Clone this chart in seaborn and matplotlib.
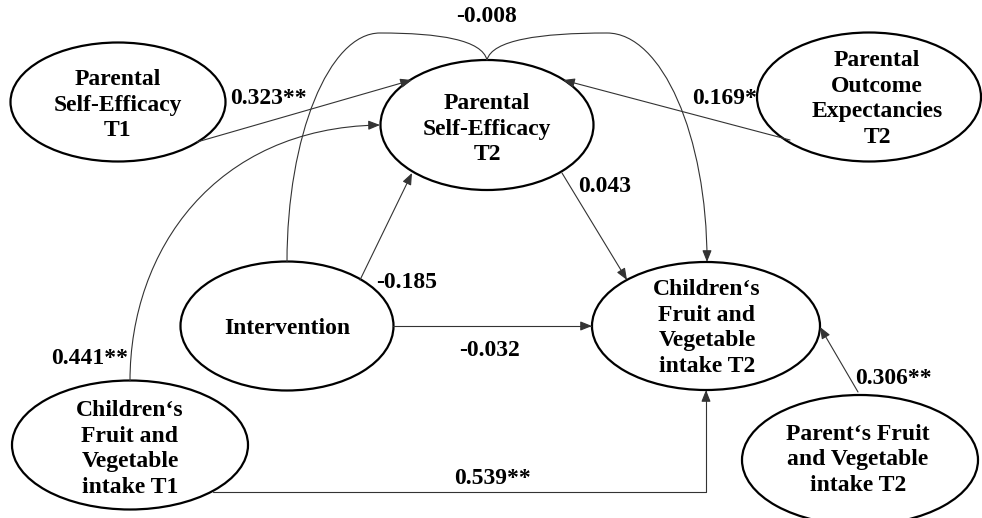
import matplotlib
matplotlib.use('Agg')
import matplotlib.pyplot as plt
import seaborn as sns
from matplotlib.patches import Ellipse, FancyArrowPatch
from matplotlib.path import Path

# node labels
node_names = ['pse_t1', 'pse_t2', 'poe_t2', 'intervention',
              'child_fv_t1', 'child_fv_t2', 'parent_fv_t2']
node_labels = ['Parental\nSelf-Efficacy\nT1',
               'Parental\nSelf-Efficacy\nT2',
               'Parental\nOutcome\nExpectancies\nT2',
               'Intervention',
               'Children\u2018s\nFruit and\nVegetable\nintake T1',
               'Children\u2018s\nFruit and\nVegetable\nintake T2',
               'Parent\u2018s Fruit\nand Vegetable\nintake T2']

# path coefficients
path_from = ['pse_t1', 'poe_t2', 'child_fv_t1', 'intervention', 'pse_t2',
             'intervention', 'child_fv_t1', 'parent_fv_t2', 'intervention']
path_to = ['pse_t2', 'pse_t2', 'pse_t2', 'pse_t2', 'child_fv_t2',
           'child_fv_t2', 'child_fv_t2', 'child_fv_t2', 'child_fv_t2']
path_coef = ['0.323**', '0.169*', '0.441**', '-0.185', '0.043',
             '-0.032', '0.539**', '0.306**', '-0.008']

# layout (pixel space, y downwards)
node_box = {  # cx, cy, w, h
    'pse_t1': (118, 102, 215, 119),
    'pse_t2': (487, 125, 213, 130),
    'poe_t2': (869, 97, 224, 129),
    'intervention': (287, 326, 213, 129),
    'child_fv_t1': (130, 445, 236, 129),
    'child_fv_t2': (706, 326, 228, 128),
    'parent_fv_t2': (860, 460, 236, 130),
}
text_pos = {
    'pse_t1': (118, 105), 'pse_t2': (487, 129), 'poe_t2': (877, 99),
    'intervention': (287, 328), 'child_fv_t1': (130, 449),
    'child_fv_t2': (707, 328), 'parent_fv_t2': (858, 460),
}
M, L, C = Path.MOVETO, Path.LINETO, Path.CURVE4
edge_paths = [
    [(197, 142), (412, 80)],
    [(790, 140), (563, 80)],
    [(130, 381), (130, 250), (215, 128), (380, 125)],
    [(360, 280), (412, 173)],
    [(562, 173), (627, 280)],
    [(393, 326), (592, 326)],
    [(213, 492), (706, 492), (706, 390)],
    [(858, 392), (820, 327)],
    [(287, 262), (287, 136), (329, 33), (380, 33),
     (440, 33), (482, 40), (487, 60),
     (492, 40), (540, 33), (607, 33),
     (662, 33), (707, 136), (707, 262)],
]
label_pos = [(268, 98), (725, 99), (90, 358), (407, 282), (605, 186),
             (490, 351), (493, 479), (893, 378), (487, 16)]

sns.set_theme(style='white')
plt.rcParams['font.family'] = ['Liberation Serif', 'DejaVu Serif']

fig = plt.figure(figsize=(9.82, 5.18), dpi=100)
ax = fig.add_axes([0, 0, 1, 1])
ax.set_xlim(0, 982)
ax.set_ylim(518, 0)
ax.axis('off')

font = dict(fontsize=17, fontweight='bold', color='black')

for name, label in zip(node_names, node_labels):
    cx, cy, w, h = node_box[name]
    ax.add_patch(Ellipse((cx, cy), w, h, fill=False, ec='black', lw=1.6))
    tx, ty = text_pos[name]
    ax.text(tx, ty, label, ha='center', va='center', linespacing=1.28, **font)

for pts, lab, lp in zip(edge_paths, path_coef, label_pos):
    if len(pts) > 3 and (len(pts) - 1) % 3 == 0:
        codes = [M] + [C] * (len(pts) - 1)
    else:
        codes = [M] + [L] * (len(pts) - 1)
    arrow = FancyArrowPatch(path=Path(pts, codes),
                            arrowstyle='-|>,head_length=0.5,head_width=0.2',
                            mutation_scale=14, lw=0.8, color='#333333')
    ax.add_patch(arrow)
    ax.text(lp[0], lp[1], lab, ha='center', va='center', **font)

plt.savefig('out.png', dpi=100, facecolor='white')
plt.close()
